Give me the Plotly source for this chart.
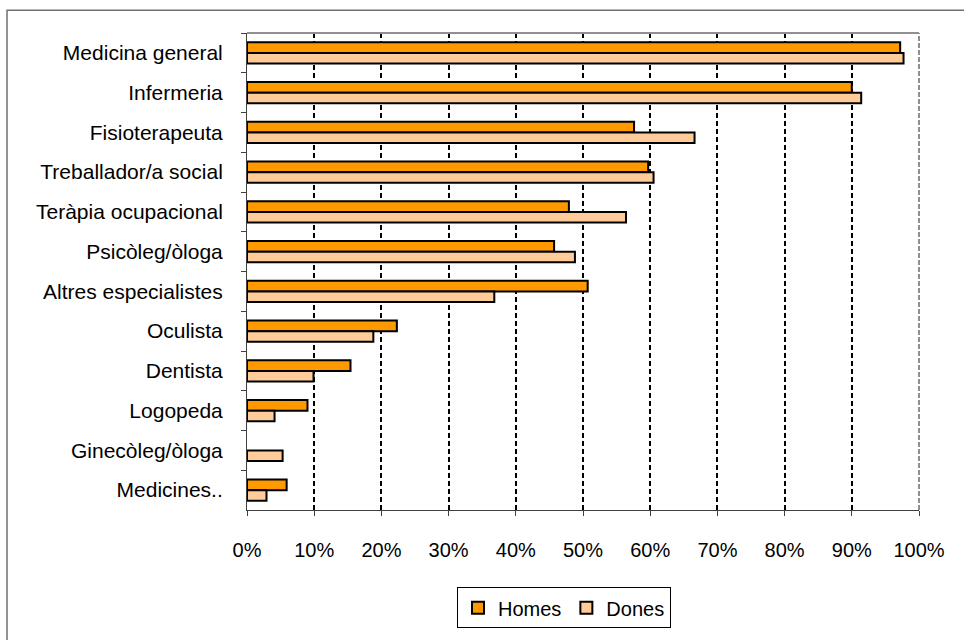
import plotly.graph_objects as go

# Professionals consulted, share by sex
categories = [
    "Medicina general",
    "Infermeria",
    "Fisioterapeuta",
    "Treballador/a social",
    "Teràpia ocupacional",
    "Psicòleg/òloga",
    "Altres especialistes",
    "Oculista",
    "Dentista",
    "Logopeda",
    "Ginecòleg/òloga",
    "Medicines..",
]
homes = [0.972, 0.900, 0.576, 0.597, 0.479, 0.457, 0.507, 0.223, 0.154, 0.090, None, 0.059]
dones = [0.977, 0.914, 0.666, 0.605, 0.564, 0.488, 0.368, 0.188, 0.099, 0.041, 0.053, 0.029]
x_ticks = [i / 10 for i in range(11)]
grid_vals = [i / 10 for i in range(1, 10)]

FONT = "Arial, Liberation Sans, sans-serif"
W, H = 964, 640
L, R, T, B = 247, 45, 33, 125
pw, ph = W - L - R, H - T - B


def px_x(p):
    return (p - L) / pw


def px_y(p):
    return (H - B - p) / ph


fig = go.Figure()
fig.add_trace(go.Bar(
    name="Homes", y=categories, x=homes, orientation="h",
    marker=dict(color="#FF9900", line=dict(color="black", width=2)),
))
fig.add_trace(go.Bar(
    name="Dones", y=categories, x=dones, orientation="h",
    marker=dict(color="#FFCC99", line=dict(color="black", width=2)),
))

fig.update_layout(
    width=W, height=H,
    margin=dict(l=L, r=R, t=T, b=B, pad=0),
    paper_bgcolor="white", plot_bgcolor="white",
    barmode="group", bargap=0.47, bargroupgap=0,
    font=dict(family=FONT, size=20, color="black"),
    showlegend=True,
    legend=dict(
        orientation="h", x=px_x(564), y=px_y(593),
        xanchor="center", yanchor="top",
        bgcolor="white", bordercolor="black", borderwidth=1,
        font=dict(family=FONT, size=20, color="black"),
        itemwidth=30, traceorder="normal",
    ),
    xaxis=dict(
        range=[0, 1], tickvals=x_ticks, tickformat=".0%",
        showgrid=False, zeroline=False,
        showline=True, linecolor="#404040", linewidth=1,
        ticks="outside", ticklen=5, tickcolor="#404040",
        ticklabelstandoff=17,
        minor=dict(tickvals=grid_vals, showgrid=True, gridcolor="black",
                   gridwidth=2, griddash="5px,3px", ticks=""),
    ),
    yaxis=dict(
        autorange="reversed", type="category",
        showgrid=False, zeroline=False,
        showline=True, linecolor="#404040", linewidth=1,
        ticks="outside", ticklen=5, tickcolor="#404040",
        tickson="boundaries", ticklabelstandoff=19,
        tickfont=dict(family=FONT, size=21, color="black"),
    ),
    shapes=[
        # plot-area border (top and right)
        dict(type="line", xref="paper", yref="paper", x0=0, x1=1, y0=1, y1=1,
             line=dict(color="#909090", width=2), layer="above"),
        dict(type="line", xref="paper", yref="paper", x0=1, x1=1, y0=0, y1=1,
             line=dict(color="#909090", width=2, dash="5px,2px"), layer="above"),
        # chart-area border
        dict(type="rect", xref="paper", yref="paper",
             x0=px_x(7), x1=px_x(W + 20), y0=px_y(H + 20), y1=px_y(10),
             line=dict(color="#707070", width=1.5), layer="below"),
    ],
)

fig.write_html("out.html")
